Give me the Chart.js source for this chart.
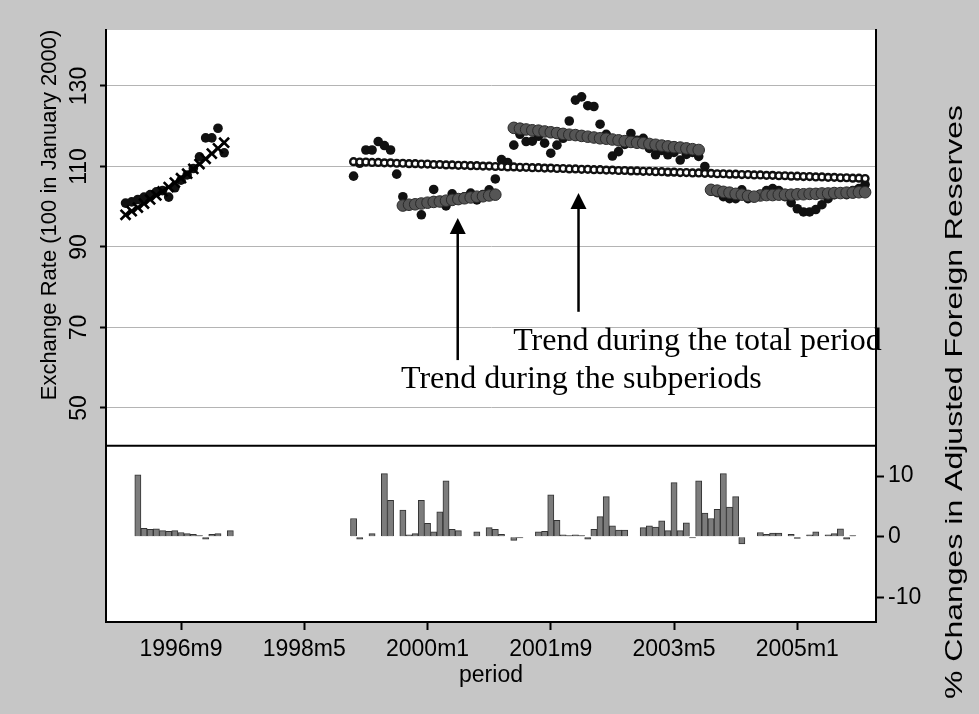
<!DOCTYPE html>
<html><head><meta charset="utf-8">
<script src="https://cdn.jsdelivr.net/npm/chart.js@4.4.1/dist/chart.umd.min.js"></script>
<style>html,body{margin:0;padding:0;background:#c6c6c6;}canvas{display:block;}</style>
</head><body>
<canvas id="c" width="979" height="714"></canvas>
<script>
// x = month index (0 = 1995m1)
const tickMonths = [20, 40, 60, 80, 100, 120];
const tickLabels = ['1996m9', '1998m5', '2000m1', '2001m9', '2003m5', '2005m1'];
const leftTicks = [50, 70, 90, 110, 130];
const rightTicks = [-10, 0, 10];

// first sub-sample: 1995m12 - 1997m4
const seg1Start = 11;
const rate1 = [100.9, 101.2, 101.8, 102.4, 103.0, 103.7, 104.0, 102.4, 104.7, 106.6, 107.9, 109.5, 112.4, 117.1, 117.1, 119.5, 113.4];
const trend1 = [98.0, 98.9, 99.8, 100.8, 101.8, 102.8, 103.8, 104.9, 106.0, 107.1, 108.2, 109.4, 110.6, 111.9, 113.2, 114.5, 115.9];

// second sample: 1999m1 - 2005m12
const seg2Start = 48;
const rate2 = [107.6, 110.8, 114.1, 114.1, 116.2, 115.2, 114.1, 108.1, 102.5, 100.5,
  100.8, 98.0, 101.0, 104.3, 101.5, 100.2, 103.2, 102.0, 102.5, 103.4,
  101.7, 103.0, 104.2, 106.9, 111.7, 111.0, 115.3, 118.0, 116.2, 116.3,
  117.5, 115.8, 113.3, 115.3, 117.0, 121.3, 126.5, 127.3, 125.1, 124.9,
  120.5, 118.0, 112.6, 113.7, 115.5, 118.2, 116.5, 117.0, 114.5, 112.9,
  114.0, 112.9, 113.5, 111.6, 113.0, 113.5, 112.5, 110.0, 104.0, 103.5,
  102.5, 102.0, 102.0, 104.2, 102.0, 102.5, 103.0, 104.0, 104.5, 104.0,
  102.5, 101.0, 99.5, 98.7, 98.7, 99.3, 100.5, 102.0, 103.0, 103.5,
  103.0, 104.0, 104.5, 105.5];
const trendTotal = [111.2, 111.1, 111.1, 111.0, 111.0, 110.9, 110.9, 110.8, 110.8, 110.7,
  110.7, 110.6, 110.6, 110.5, 110.5, 110.4, 110.4, 110.3, 110.3, 110.2,
  110.2, 110.1, 110.1, 110.0, 110.0, 109.9, 109.9, 109.8, 109.8, 109.7,
  109.7, 109.6, 109.6, 109.5, 109.5, 109.4, 109.4, 109.3, 109.3, 109.2,
  109.2, 109.1, 109.1, 109.0, 109.0, 108.9, 108.9, 108.8, 108.8, 108.7,
  108.7, 108.6, 108.6, 108.5, 108.5, 108.4, 108.4, 108.3, 108.3, 108.2,
  108.2, 108.1, 108.1, 108.0, 108.0, 107.9, 107.9, 107.8, 107.8, 107.7,
  107.7, 107.6, 107.6, 107.5, 107.5, 107.4, 107.4, 107.3, 107.3, 107.2,
  107.2, 107.1, 107.1, 107.0];

// subperiod trends
const subBStart = 56;
const subB = [100.3, 100.5, 100.6, 100.8, 101.0, 101.2, 101.3, 101.5, 101.7, 101.9, 102.1, 102.3, 102.5, 102.6, 102.8, 103.0];
const subCStart = 74;
const subC = [119.6, 119.4, 119.2, 119.0, 118.9, 118.7, 118.5, 118.3, 118.1, 117.9,
  117.8, 117.6, 117.4, 117.2, 117.0, 116.9, 116.7, 116.5, 116.3, 116.1,
  115.9, 115.8, 115.6, 115.4, 115.2, 115.0, 114.8, 114.7, 114.5, 114.3, 114.1];
const subDStart = 106;
const subD = [104.2, 104.0, 103.7, 103.5, 103.2, 103.0, 102.7, 102.5];
const subEStart = 114;
const subE = [102.8, 102.9, 102.9, 103.0, 103.0, 103.0, 103.1, 103.1, 103.2, 103.2, 103.3, 103.3, 103.4, 103.4, 103.5, 103.5, 103.6, 103.6];

// % changes in adjusted foreign reserves
const resMonths = [13, 14, 15, 16, 17, 18, 19, 20, 21, 22, 23, 24, 25, 26, 28,
  48, 49, 51, 53, 54, 56, 57, 58, 59, 60, 61, 62, 63, 64, 65, 68, 70, 71, 72, 74, 75,
  78, 79, 80, 81, 82, 83, 84, 85, 86, 87, 88, 89, 90, 91, 92, 95, 96, 97, 98, 99,
  100, 101, 102, 103, 104, 105, 106, 107, 108, 109, 110, 111,
  114, 115, 116, 117, 119, 120, 122, 123, 125, 126, 127, 128, 129];
const resValues = [10.2, 1.4, 1.2, 1.3, 1.0, 0.9, 1.0, 0.7, 0.5, 0.4, 0.2, -0.4, 0.4, 0.5, 1.0,
  3.0, -0.4, 0.5, 10.4, 6.0, 4.4, 0.3, 0.5, 6.0, 2.2, 0.8, 4.1, 9.2, 1.2, 1.0, 0.8, 1.5, 1.2, 0.4, -0.6, -0.2,
  0.8, 0.9, 6.9, 2.7, 0.3, 0.2, 0.3, 0.2, -0.4, 1.2, 3.3, 6.6, 1.8, 1.1, 1.1, 1.5, 1.8, 1.6, 2.6, 1.0,
  8.9, 1.0, 2.3, -0.2, 9.2, 3.9, 3.0, 4.5, 10.4, 4.9, 6.6, -1.2,
  0.7, 0.4, 0.6, 0.6, 0.4, -0.3, 0.3, 0.8, 0.3, 0.5, 1.3, -0.4, 0.2];

const seq = (start, vals) => vals.map((v, i) => ({x: start + i, y: v}));
const pairs = (xs, ys) => xs.map((x, i) => ({x: x, y: ys[i]}));

const SANS = '"Liberation Sans", Arial, Helvetica, sans-serif';
const SERIF = '"Liberation Serif", "Times New Roman", serif';

const decor = {
  id: 'decor',
  beforeDraw(chart) {
    const {ctx, chartArea: a} = chart;
    ctx.save();
    ctx.fillStyle = '#c6c6c6';
    ctx.fillRect(0, 0, chart.width, chart.height);
    ctx.fillStyle = '#ffffff';
    ctx.fillRect(a.left, a.top, a.right - a.left, a.bottom - a.top);
    ctx.restore();
  },
  beforeDatasetsDraw(chart) {
    const {ctx, chartArea: a, scales} = chart;
    const py = scales.y2.getPixelForValue(15);
    ctx.save();
    ctx.strokeStyle = '#000';
    ctx.lineWidth = 2;
    ctx.beginPath();
    ctx.moveTo(a.left, py);
    ctx.lineTo(a.right, py);
    ctx.stroke();
    ctx.restore();
  },
  afterDraw(chart) {
    const {ctx, scales} = chart;
    const X = v => scales.x.getPixelForValue(v);
    const Y = v => scales.y.getPixelForValue(v);
    ctx.save();
    const arrow = (mx, vTip, vBase) => {
      const x = X(mx), yt = Y(vTip), yb = Y(vBase);
      ctx.strokeStyle = '#000';
      ctx.fillStyle = '#000';
      ctx.lineWidth = 2.5;
      ctx.beginPath();
      ctx.moveTo(x, yb);
      ctx.lineTo(x, yt + 14);
      ctx.stroke();
      ctx.beginPath();
      ctx.moveTo(x, yt);
      ctx.lineTo(x - 8, yt + 16);
      ctx.lineTo(x + 8, yt + 16);
      ctx.closePath();
      ctx.fill();
    };
    arrow(64.9, 97.2, 61.9);
    arrow(84.5, 103.4, 73.9);
    ctx.fillStyle = '#000';
    ctx.font = '32px ' + SERIF;
    ctx.textAlign = 'left';
    ctx.textBaseline = 'alphabetic';
    ctx.fillText('Trend during the total period', X(73.9), Y(64.4));
    ctx.fillText('Trend during the subperiods', X(55.7), Y(55.0));
    ctx.font = '22px ' + SANS;
    ctx.textAlign = 'center';
    ctx.textBaseline = 'middle';
    ctx.save();
    ctx.translate(50, 215);
    ctx.rotate(-Math.PI / 2);
    ctx.fillText('Exchange Rate (100 in January 2000)', 0, 0);
    ctx.restore();
    // right title: stretched along its length like the reference
    const rt = '% Changes in Adjusted Foreign Reserves';
    ctx.font = '24px ' + SANS;
    const stretch = 594 / ctx.measureText(rt).width;
    ctx.save();
    ctx.translate(955, 402);
    ctx.rotate(-Math.PI / 2);
    ctx.scale(stretch, 1);
    ctx.fillText(rt, 0, 0);
    ctx.restore();
    ctx.restore();
  }
};

new Chart(document.getElementById('c'), {
  type: 'scatter',
  data: {
    datasets: [
      {label: 'Trend (total period)', data: seq(seg2Start, trendTotal), yAxisID: 'y', order: 0,
        pointStyle: 'circle', pointRadius: 3.4, pointBorderWidth: 2.4, pointBorderColor: '#111', pointBackgroundColor: '#fff'},
      {label: 'Trend subperiod 1', data: seq(seg1Start, trend1), yAxisID: 'y', order: 1,
        pointStyle: 'crossRot', pointRadius: 7, pointBorderWidth: 2.6, pointBorderColor: '#000', pointBackgroundColor: '#000'},
      {label: 'Trend subperiod B', data: seq(subBStart, subB), yAxisID: 'y', order: 1,
        pointStyle: 'circle', pointRadius: 5.8, pointBorderWidth: 1, pointBorderColor: '#2a2a2a', pointBackgroundColor: '#555'},
      {label: 'Trend subperiod C', data: seq(subCStart, subC), yAxisID: 'y', order: 1,
        pointStyle: 'circle', pointRadius: 5.8, pointBorderWidth: 1, pointBorderColor: '#2a2a2a', pointBackgroundColor: '#555'},
      {label: 'Trend subperiod D', data: seq(subDStart, subD), yAxisID: 'y', order: 1,
        pointStyle: 'circle', pointRadius: 5.8, pointBorderWidth: 1, pointBorderColor: '#2a2a2a', pointBackgroundColor: '#555'},
      {label: 'Trend subperiod E', data: seq(subEStart, subE), yAxisID: 'y', order: 1,
        pointStyle: 'circle', pointRadius: 5.8, pointBorderWidth: 1, pointBorderColor: '#2a2a2a', pointBackgroundColor: '#555'},
      {label: 'Exchange rate', data: seq(seg1Start, rate1).concat(seq(seg2Start, rate2)), yAxisID: 'y', order: 2,
        pointStyle: 'circle', pointRadius: 4.8, pointBorderWidth: 0, pointBackgroundColor: '#111'},
      {type: 'bar', label: '% change reserves', data: pairs(resMonths, resValues), yAxisID: 'y2', order: 3,
        backgroundColor: '#7c7c7c', borderColor: '#333', borderWidth: 1, barPercentage: 1, categoryPercentage: 1}
    ]
  },
  options: {
    responsive: false,
    animation: false,
    events: [],
    layout: {padding: {top: 30, left: 0, right: 0, bottom: 0}},
    plugins: {legend: {display: false}, tooltip: {enabled: false}},
    scales: {
      x: {
        type: 'linear', position: 'bottom', min: 7.83, max: 132.77, offset: false, bounds: 'data', grace: 0,
        afterBuildTicks: s => { s.ticks = tickMonths.map(v => ({value: v})); },
        afterFit: s => { s.height = 92; },
        ticks: {autoSkip: false, maxRotation: 0, minRotation: 0, padding: 6, color: '#000',
          font: {family: SANS, size: 23},
          callback: v => tickLabels[tickMonths.indexOf(v)]},
        grid: {offset: false, drawOnChartArea: false, drawTicks: true, tickLength: 8, tickColor: '#000', tickWidth: 2},
        border: {display: true, color: '#000', width: 2},
        title: {display: true, text: 'period', color: '#000', font: {family: SANS, size: 23}, padding: {top: 0, bottom: 25}}
      },
      y: {
        type: 'linear', position: 'left', min: -3.17, max: 143.91,
        afterBuildTicks: s => { s.ticks = leftTicks.map(v => ({value: v})); },
        afterFit: s => { s.width = 106; },
        ticks: {minRotation: 90, maxRotation: 90, crossAlign: 'center', padding: 1, color: '#000',
          font: {family: SANS, size: 23}},
        grid: {drawOnChartArea: true, color: '#b4b4b4', lineWidth: 1, borderDash: [2, 2],
          drawTicks: true, tickLength: 6, tickColor: '#000', tickWidth: 2, tickBorderDash: []},
        border: {display: true, color: '#000', width: 2}
      },
      y2: {
        type: 'linear', position: 'right', min: -14.05, max: 83.48,
        afterBuildTicks: s => { s.ticks = rightTicks.map(v => ({value: v})); },
        afterFit: s => { s.width = 103; },
        ticks: {padding: 4, color: '#000', font: {family: SANS, size: 23}},
        grid: {drawOnChartArea: false, drawTicks: true, tickLength: 8, tickColor: '#000', tickWidth: 2},
        border: {display: true, color: '#000', width: 2}
      }
    }
  },
  plugins: [decor]
});
</script>
</body></html>
